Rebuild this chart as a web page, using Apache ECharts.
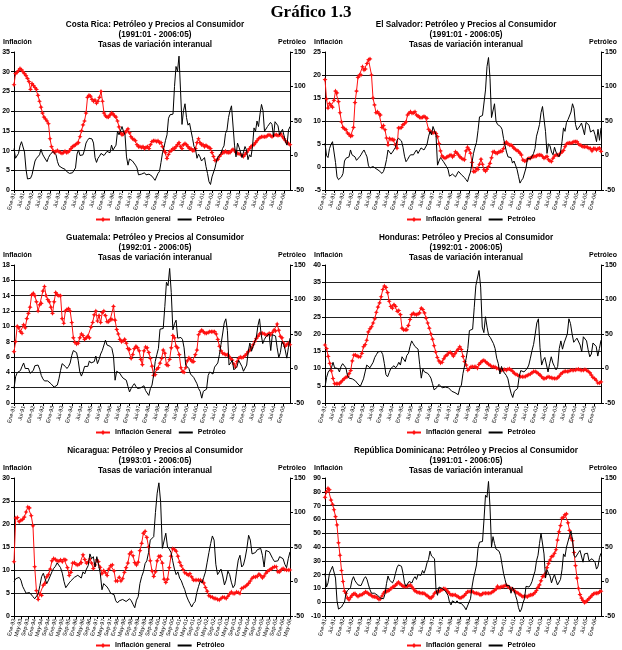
<!DOCTYPE html>
<html>
<head>
<meta charset="utf-8">
<title>Gráfico 1.3</title>
<script src="https://cdn.jsdelivr.net/npm/echarts@6/dist/echarts.min.js"></script>
<style>
  html, body { margin: 0; padding: 0; background: #fff; }
  #grafico { width: 622px; height: 650px; }
</style>
</head>
<body>
<div id="grafico"></div>
<script>
// ---- Nombres de los meses para las etiquetas del eje X ----
var MESES = ['Ene', 'Feb', 'Mar', 'Abr', 'May', 'Jun', 'Jul', 'Ago', 'Sep', 'Oct', 'Nov', 'Dic'];

// ---- Costa Rica (1991:01 - 2006:05) ----
var crInflacion = [
  26.7, 29.5, 29.8, 30.3, 30.8, 30.5, 30.0, 29.5, 29.0, 28.3, 27.5, 25.5,
  27.0, 26.5, 26.0, 25.5, 24.0, 22.5, 21.0, 19.5, 18.5, 18.0, 17.5, 16.8,
  13.0, 11.0, 10.0, 9.5, 9.8, 10.0, 9.7, 9.5, 9.3, 9.5, 9.8, 9.5,
  9.6, 10.0, 10.5, 11.0, 11.2, 11.5, 11.8, 12.0, 13.5, 15.0, 16.5, 17.5,
  19.5, 23.5, 24.0, 23.8, 23.0, 22.5, 22.8, 22.0, 22.5, 23.5, 25.0, 22.5,
  19.5, 18.8, 18.5, 18.5, 19.0, 19.5, 19.3, 18.8, 18.5, 17.5, 16.0, 14.5,
  14.0, 14.2, 14.5, 15.0, 15.5, 14.5, 13.5, 13.0, 12.8, 12.5, 11.5, 11.0,
  11.0, 10.8, 11.0, 10.5, 10.8, 11.0, 10.5, 11.5, 12.3, 12.5, 12.5, 12.3,
  12.5, 12.0, 12.0, 11.0, 10.0, 9.5, 8.0, 9.0, 9.8, 10.0, 10.5, 10.5,
  11.0, 11.5, 12.0, 11.0, 10.5, 11.5, 11.8, 11.5, 11.0, 10.5, 10.5, 10.0,
  10.0, 10.5, 12.0, 13.0, 12.0, 11.5, 11.5, 11.0, 11.3, 11.0, 10.8, 10.5,
  9.5, 8.5, 7.5, 7.5, 7.8, 8.5, 9.0, 9.5, 9.5, 9.8, 9.5, 9.5,
  9.5, 10.0, 10.3, 10.0, 9.5, 9.3, 9.2, 9.0, 8.8, 8.5, 9.0, 9.5,
  10.0, 10.5, 11.0, 11.3, 11.5, 12.0, 12.5, 13.0, 13.3, 13.5, 13.5, 13.5,
  13.5, 13.8, 14.0, 13.8, 13.5, 13.8, 14.0, 14.0, 13.8, 14.0, 14.2, 13.5,
  13.0, 12.5, 12.0, 11.8, 11.5
];
var crPetroleo = [
  10, -4, -3, 3, 14, 20, 19, 5, -20, -34, -35, -33,
  -28, -26, -8, -4, -2, 1, 9, 2, -2, -2, -9, -3,
  1, 3, 6, 8, 1, -9, -15, -17, -18, -18, -20, -23,
  -23, -26, -27, -25, -27, -18, 2, 8, 0, -2, 1, 8,
  18, 22, 25, 27, 24, 18, -3, -10, -4, -1, 3, 2,
  0, -2, 6, 4, 4, 15, 8, 9, 15, 35, 30, 30,
  42, 35, 30, -2, -14, -5, -6, -8, -10, -14, -18, -28,
  -30, -27, -27, -25, -28, -26, -27, -28, -30, -33, -36, -38,
  -26, -23, -10, 4, 12, 22, 30, 54, 59, 58, 60, 100,
  129, 122, 144, 95, 45, 65, 75, 55, 44, 47, 36, 25,
  13, 9, -4, 2, -2, -8, -10, -3, -16, -26, -38, -42,
  -31, -31, -18, -8, -2, -4, 3, 10, 14, 32, 37, 55,
  65, 72, 73, 15, -2, 18, 12, 5, -3, 5, 13, 8,
  -6, 1, -2, 13, 40, 35, 50, 42, 60, 74, 65, 35,
  37, 42, 44, 48, 45, 27, 49, 47, 43, 30, 32, 38,
  40, 20, 15, 37, 42
];

// ---- El Salvador (1991:01 - 2006:05) ----
var esInflacion = [
  19, 14.8, 12.8, 13.8, 13.3, 13, 14.5, 16.5, 16.1, 14.2, 11.8, 9.8,
  8.6, 8.3, 8.1, 7.4, 7.1, 6.7, 6.8, 8.6, 14, 16.5, 19.5, 20,
  20, 21.8, 21.1, 21.3, 22.5, 23.3, 23.5, 20, 15, 13.5, 11.8, 12,
  11.6, 11.3, 8.6, 9, 8.1, 6.3, 4.8, 6.2, 6, 6, 5.9, 4.8,
  4.1, 8.5, 8.5, 8.6, 9.2, 9.4, 9.8, 11.3, 11.7, 12, 11.7, 11.8,
  12, 11.3, 11.1, 10.8, 10.7, 10.8, 11, 10.8, 10.6, 8.2, 7.8, 7.5,
  7.4, 7.6, 7.3, 6.6, 5.1, 3.5, 2.4, 2.1, 1.9, 2.1, 2.3, 2.5,
  2.6, 2.2, 2.5, 3.3, 3, 2.6, 2.2, 1.9, 1.7, 1.6, 3.5, 4.3,
  3.8, 3, 1, -1, -1, -0.4, -0.5, 0.6, 1.7, 0.6, -0.6, -0.9,
  -0.5, 0.1, 0.8, 2, 3.3, 3.3, 3, 3, 3.3, 3.4, 3.4, 4,
  5.2, 5.4, 5, 4.8, 4.8, 4.5, 4.1, 3.8, 3.6, 3.4, 3, 2.6,
  1.5, 1.3, 1.3, 1.7, 1.9, 1.9, 2.2, 2.3, 2.3, 2.4, 2.6, 2.6,
  2.6, 2.3, 1.9, 2.1, 2.3, 1.6, 1.3, 1.2, 1.9, 2.4, 2.6, 2.6,
  2.6, 3, 3.3, 3.6, 4.4, 5, 5.2, 5.2, 5.2, 5.3, 5.5, 5.5,
  5.5, 5, 4.8, 4.6, 4.4, 4.4, 4.4, 4.3, 4.1, 4, 3.5, 4,
  4, 3.7, 4, 4.1, 3.4
];
var esPetroleo = [
  18, 0, -3, 10, 16, 20, 19, -10, -31, -35, -35, -31,
  -26, -8, -4, -3, -2, 8, 1, 0, -2, -7, -9, -2,
  1, 5, 8, 3, -2, -15, -18, -17, -16, -17, -19, -21,
  -22, -24, -26, -23, -16, -6, 8, 5, 2, 5, 7, 12,
  22, 25, 26, 21, 12, -1, -9, -6, -2, 1, 3, 1,
  5, 8, 3, 3, 11, 11, 8, 8, 16, 27, 35, 30,
  42, 36, 30, -14, -8, -3, -6, -9, -11, -16, -20, -30,
  -31, -27, -28, -31, -27, -23, -25, -28, -30, -32, -35, -38,
  -30, -24, -10, 3, 12, 19, 36, 56, 58, 58, 60, 95,
  129, 142, 112, 55, 55, 75, 50, 45, 44, 42, 38, 25,
  15, 5, -2, 0, -3, -11, -8, -8, -20, -30, -40, -36,
  -33, -31, -18, -4, -3, -5, -3, 3, 10, 28, 36, 45,
  62, 71, 70, 35, 3, 17, 14, 5, 1, 12, 5, 1,
  -2, 5, 20, 40, 35, 48, 52, 52, 63, 75, 68, 45,
  37, 39, 43, 47, 45, 30, 48, 46, 44, 34, 36, 37,
  30, 20, 38, 22, 40
];

// ---- Guatemala (1992:01 - 2006:05) ----
var gtInflacion = [
  6.7, 8, 10, 9.8, 9.3, 9.1, 10.2, 9.8, 11, 11.7, 12.5, 14.1,
  14.3, 14, 13.2, 12, 12.8, 13, 14.6, 15.2, 14, 13.5, 13.2, 12.5,
  11.7, 13.2, 14.4, 14.1, 14, 14, 11, 10.4, 12, 12.2, 12.3, 12,
  10.5, 8.5, 7.9, 7.7, 7.8, 8.5, 9, 8.8, 8.3, 8.5, 8.7, 8.5,
  9.9, 10.5, 11.5, 12, 10.7, 11.4, 10.5, 11.8, 12, 11.4, 10.6, 10.6,
  10.9, 10.9, 12.6, 10.8, 9.6, 9, 8.3, 8, 8.1, 8.3, 7.8, 7.1,
  7, 5.8, 6.3, 7.1, 7.4, 7.2, 6.8, 5.7, 5, 6.8, 7.3, 7.2,
  6.6, 5.8, 4.8, 3.6, 3.7, 4.4, 4.6, 5.2, 5.8, 6.9, 6.5, 5,
  4.9, 5.7, 7.2, 8.8, 8.5, 7.4, 7.2, 6.3, 4.6, 4.1, 4, 4.6,
  5.5, 5.9, 5.7, 5.4, 5.4, 6.3, 6.9, 8.9, 9.3, 9.5, 9.3, 9.1,
  9.1, 9.2, 9.3, 9.3, 9.3, 9.3, 9, 8.3, 7.4, 6.8, 6.5, 6.4,
  6.3, 6.3, 6.1, 5.8, 5.6, 5.1, 4.7, 5.4, 5.8, 6, 5.9, 6,
  6.2, 6.4, 6.7, 6.9, 7.2, 7.6, 8, 8.4, 8.7, 9, 9.1, 9.1,
  9, 8.9, 8.9, 9.1, 8.9, 9.2, 9.5, 9.4, 10.3, 9.5, 8.7, 8.5,
  7.8, 7.4, 7.6, 7.8, 7.6
];
var gtPetroleo = [
  -29, -12, -6, -5, -3, 3, 8, 0, -2, 0, -7, -8,
  -3, 4, 6, 5, -1, -10, -15, -18, -17, -18, -20, -22,
  -24, -27, -27, -24, -15, -3, 7, 8, 3, 0, 3, 8,
  19, 26, 26, 23, 12, -5, -11, -5, 3, 4, 3, 11,
  8, 8, 10, 18, 7, 13, 21, 26, 26, 41, 34, 32,
  32, 29, 18, -17, -4, -5, -7, -11, -14, -14, -17, -26,
  -34, -29, -25, -22, -26, -29, -27, -28, -28, -25, -32, -34,
  -39, -29, -24, -10, 10, 20, 29, 57, 56, 58, 90, 125,
  120, 145, 110, 56, 65, 70, 44, 45, 45, 42, 30, 5,
  5, 0, -8, -10, -13, -14, -22, -29, -33, -43, -33, -33,
  -30, -10, -5, -5, -8, 2, 3, 8, 20, 35, 50, 66,
  72, 55, 5, 8, 12, -2, -4, 3, 12, 10, 3, -4,
  -3, 5, 25, 37, 25, 32, 30, 45, 62, 72, 50, 36,
  42, 46, 44, 50, 26, 49, 49, 47, 30, 16, 23, 39,
  35, 27, 15, 30, 44
];

// ---- Honduras (1992:01 - 2006:05) ----
var hnInflacion = [
  16.8, 15.8, 13.5, 11.5, 9.3, 7.1, 5.6, 5.6, 5.6, 5.6, 6.1, 6.6,
  7.1, 7.4, 7.7, 8.5, 9.4, 12.2, 13.9, 13.9, 13.6, 13.4, 13.4, 14.4,
  16.3, 16.9, 18.2, 20.6, 21.5, 22.1, 23.2, 24.4, 26.3, 27.8, 29, 30.8,
  32.9, 33.9, 33.5, 32, 29.5, 28, 27.5, 28.5, 28, 26.6, 26.8, 25.6,
  21.7, 21.2, 21.2, 21.2, 22.5, 24.2, 25.6, 26, 25.7, 25.6, 25.8, 26.1,
  27.5, 27.1, 26.1, 24.6, 23.2, 21.7, 20, 18.5, 16.6, 14.8, 13.2, 12.2,
  11.6, 11.8, 12.8, 13.6, 13.9, 14.5, 14.7, 14.3, 13.6, 14.3, 15, 15.6,
  16.3, 15.5, 13.5, 12, 11, 9.5, 10, 10.5, 10.5, 10.5, 10.5, 10.1,
  11.2, 11.7, 12.2, 12.4, 12, 11.6, 11.2, 10.9, 10.5, 10.5, 10.4, 10.1,
  10, 9.7, 9.5, 9.6, 9.7, 9.5, 9.8, 9.9, 9.5, 9.2, 8.6, 8.3,
  8.1, 7.9, 7.6, 7.6, 7.6, 7.7, 8, 8.2, 8.4, 8.8, 9.1, 9.1,
  8.9, 8.5, 8.1, 7.6, 7.1, 7.1, 7.3, 7.6, 7.5, 7.3, 7.2, 7.1,
  7.1, 7.3, 7.8, 8.4, 8.8, 9.1, 9.2, 9.1, 9.2, 9.5, 9.5, 9.5,
  9.6, 9.7, 9.8, 9.6, 9.5, 9.5, 9.7, 9.5, 9.2, 8.8, 8.1, 7.4,
  7.1, 6.6, 5.8, 5.8, 6.1
];
var hnPetroleo = [
  -27, -13, -5, -2, 1, 9, 1, 3, 0, -5, 3, 7,
  7, 1, -10, -14, -16, -15, -16, -18, -21, -23, -26, -25,
  -15, -5, 5, 5, 1, 0, 9, 16, 20, 24, 26, 25,
  20, 7, -9, -12, -6, 0, -1, 4, 1, 4, 9, 5,
  17, 17, 10, 19, 22, 32, 40, 36, 32, 31, 28, 6,
  -14, -1, -5, -5, -7, -10, -14, -22, -31, -30, -27, -23,
  -25, -28, -28, -27, -29, -28, -28, -33, -33, -35, -37, -38,
  -28, -24, -7, 4, 15, 29, 55, 56, 57, 88, 120, 122,
  142, 118, 60, 52, 75, 60, 48, 45, 43, 36, 29, 15,
  7, -8, 3, -4, -3, -10, -15, -27, -36, -42, -33, -32,
  -29, -12, -3, -4, -5, -3, 0, 5, 15, 26, 35, 50,
  66, 72, 30, 5, 12, 16, 15, -5, 7, 17, 8, 3,
  -2, 3, 29, 40, 28, 37, 39, 50, 72, 65, 50, 38,
  41, 44, 42, 34, 24, 46, 44, 40, 27, 17, 21, 37,
  39, 32, 18, 29, 41
];

// ---- Nicaragua (1993:01 - 2006:05) ----
var niInflacion = [
  11.8, 21.3, 21.4, 20.5, 20.8, 21, 21.5, 22.6, 23.7, 23.5, 21.8, 19.6,
  10.7, 5.5, 3.6, 4.8, 4.5, 6.7, 7.1, 8.5, 9, 10.2, 12, 12.5,
  12.3, 12, 11.9, 12.2, 11.8, 12.3, 12.2, 10.5, 8.8, 9.5, 11.5, 11.6,
  11.2, 11.1, 11.3, 11.6, 13.3, 12.3, 11.5, 11.7, 12.4, 11.5, 10.3, 11.1,
  12.2, 11.8, 10.6, 9.2, 9.9, 9.4, 8.8, 10.2, 10.9, 11.1, 9.8, 7.6,
  7.6, 8.4, 7.6, 8.1, 9.5, 10.5, 11.5, 13.5, 13.9, 13.1, 11.6, 11.1,
  11.7, 14.2, 15.8, 18, 18.4, 17.1, 15, 12, 9.8, 8.6, 9.6, 12,
  13, 13, 11.5, 8, 7.3, 8, 10.5, 13, 14.6, 14.5, 14.1, 13,
  11.7, 10.9, 10.1, 9.4, 9.2, 8.9, 9.2, 8.5, 7.8, 7.8, 7.8, 7.8,
  7.8, 7.6, 7.2, 6.2, 5.4, 4.4, 4.2, 4.1, 3.8, 3.8, 3.6, 3.5,
  3.8, 4.1, 4, 3.8, 4.3, 4.8, 5.2, 4.9, 4.9, 5.2, 5.1, 4.9,
  6, 6.2, 6.4, 6.7, 7.1, 7.6, 8.2, 8.5, 8.5, 8.6, 9.1, 8.8,
  8.3, 8.7, 9.3, 9.7, 10, 10.2, 10.5, 10.7, 10.7, 9.6, 9.6, 10.1,
  10.3, 10.1, 10, 10, 10
];
var niPetroleo = [
  0, 4, 6, 6, 2, -7, -12, -17, -16, -16, -17, -22,
  -25, -27, -18, -6, 7, 12, 4, -3, 2, 8, 14, 19,
  22, 27, 26, 20, 12, 0, -9, -10, -2, 1, -1, 6,
  8, 9, 10, 5, 14, 11, 18, 23, 40, 33, 36, 21,
  36, 34, 12, -12, -3, -4, -8, -12, -17, -17, -19, -28,
  -31, -28, -26, -26, -26, -29, -28, -25, -28, -33, -38, -27,
  -22, -3, 7, 14, 26, 30, 42, 60, 58, 65, 100, 128,
  143, 115, 48, 50, 70, 50, 47, 42, 30, 18, 10, 14,
  5, 1, -6, -12, -21, -27, -32, -37, -32, -29, -16, -7,
  1, -2, 6, 14, 28, 42, 55, 66, 60, 25, 10, 12,
  18, 8, -5, 2, 15, 10, -1, -9, -5, 14, 31, 38,
  21, 24, 34, 48, 67, 60, 40, 38, 42, 46, 48, 48,
  38, 21, 45, 44, 43, 42, 33, 29, 30, 30, 36, 36,
  33, 25, 20, 33, 43
];

// ---- República Dominicana (1991:01 - 2006:05) ----
var rdInflacion = [
  76, 80, 82.5, 81.5, 74, 71, 67, 62, 56, 43, 34, 23,
  15, 8, 6.5, 3, 1.8, 3.5, 5, 6, 6.3, 5, 4.2, 5,
  5.3, 5.8, 6.5, 7.5, 7, 6.2, 5.5, 4.8, 4, 4, 3.8, 3,
  2, 2.5, 4.5, 6.5, 7.7, 7.7, 8.2, 8.9, 10, 10.8, 11.5, 12.2,
  13.5, 14.5, 13.3, 12.5, 11.5, 11.3, 11.3, 11.6, 12, 12.4, 11, 9.6,
  8.2, 7.6, 7.1, 6.9, 6.5, 6.5, 6.4, 5.6, 4.8, 4, 3, 3.3,
  4.5, 6.5, 7.2, 7.7, 7.7, 8.4, 9, 9.8, 9.7, 8.8, 7.5, 6.3,
  5.3, 5.3, 5.3, 5.2, 4.3, 3.8, 3, 3.4, 4, 5, 6.3, 7.6,
  7.7, 7.7, 7.7, 7.2, 6.5, 6.5, 6.3, 5.6, 5.3, 6.2, 6.5, 6.5,
  6.5, 6.5, 6.5, 7, 7.7, 8.6, 9.5, 11.5, 10.5, 10.8, 11.3, 11.3,
  12, 12.2, 11.2, 10.3, 9.9, 9.5, 8.5, 7.5, 6.9, 6.3, 5.5, 4.7,
  4, 4.4, 4.2, 4, 4.8, 5.3, 5.3, 6, 7, 8.5, 10.8, 12.5,
  15.5, 18.6, 18.8, 21, 25, 28, 30.5, 33, 33.5, 35.5, 38, 45,
  51, 55.5, 61, 61.5, 63.4, 64, 57.5, 52, 46.4, 44.5, 36, 26.5,
  17.5, 10, 5.5, 3, 1.2, -0.3, 0.4, 1.5, 2.6, 3.7, 5, 6,
  6.5, 6.5, 6.5, 7.5, 8
];
var rdPetroleo = [
  12, -8, -2, 12, 17, 22, 20, 5, -28, -40, -40, -37,
  -33, -30, -17, -13, -11, -9, 2, 7, 1, 0, -5, -7,
  -6, -1, 4, 7, 3, -5, -12, -17, -17, -17, -17, -20,
  -21, -24, -26, -25, -18, -3, 8, 2, 0, -2, 3, 12,
  20, 24, 26, 22, 12, -2, -7, -5, 0, -1, -2, 4,
  7, 3, 10, 10, 9, 16, 12, 18, 27, 32, 44, 37,
  38, 33, -12, -20, -8, -6, -10, -11, -13, -15, -20, -30,
  -34, -28, -30, -31, -28, -31, -33, -32, -33, -37, -41, -40,
  -30, -25, -8, 5, 14, 24, 48, 57, 58, 58, 90, 125,
  122, 145, 108, 50, 65, 55, 47, 46, 44, 38, 25, 12,
  3, -6, -4, -6, -17, -8, -13, -20, -27, -38, -44, -40,
  -31, -25, -7, -5, -8, -5, 0, 8, 15, 30, 38, 55,
  70, 72, 40, 5, 17, 12, 8, -2, 5, 10, 2, -5,
  -6, 3, 17, 40, 36, 50, 52, 66, 73, 60, 38, 35,
  36, 42, 45, 47, 28, 40, 42, 41, 30, 28, 33, 34,
  28, 18, 22, 35, 41
];

// ---- Escalas del eje izquierdo (Inflación) por panel: [min, max, intervalo] ----
var escalaCR = [0, 35, 5];
var escalaES = [-5, 25, 5];
var escalaGT = [0, 18, 2];
var escalaHN = [0, 40, 5];
var escalaNI = [0, 30, 5];
var escalaRD = [-10, 90, 10];
// eje derecho (Petróleo), común a todos los paneles
var escalaPetroleo = [-50, 150, 50];

/**
 * Construye las etiquetas mensuales "Ene-91", "Feb-91", ...
 * @param {number} anio - año inicial de las etiquetas
 * @param {number} n    - número de meses
 */
function etiquetasMes(anio, n) {
    var out = [];
    for (var i = 0; i < n; i++) {
        var a = anio + Math.floor(i / 12);
        out.push(MESES[i % 12] + '-' + String(a % 100).padStart(2, '0'));
    }
    return out;
}

// ---- Definición de los seis paneles ----
var paneles = [
    { titulo: 'Costa Rica: Petróleo y Precios al Consumidor', periodo: '(1991:01 - 2006:05)',
      anioEtiqueta: 1991, inflacion: crInflacion, petroleo: crPetroleo, escala: escalaCR,
      paso: 6, leyenda: 'Inflación general' },
    { titulo: 'El Salvador: Petróleo y Precios al Consumidor', periodo: '(1991:01 - 2006:05)',
      anioEtiqueta: 1991, inflacion: esInflacion, petroleo: esPetroleo, escala: escalaES,
      paso: 6, leyenda: 'Inflación general' },
    // en el original las etiquetas de Guatemala y Honduras empiezan en Ene-91
    { titulo: 'Guatemala: Petróleo y Precios al Consumidor', periodo: '(1992:01 - 2006:05)',
      anioEtiqueta: 1991, inflacion: gtInflacion, petroleo: gtPetroleo, escala: escalaGT,
      paso: 6, leyenda: 'Inflación General' },
    { titulo: 'Honduras: Petróleo y Precios al Consumidor', periodo: '(1992:01 - 2006:05)',
      anioEtiqueta: 1991, inflacion: hnInflacion, petroleo: hnPetroleo, escala: escalaHN,
      paso: 6, leyenda: 'Inflación general' },
    { titulo: 'Nicaragua: Petróleo y Precios al Consumidor', periodo: '(1993:01 - 2006:05)',
      anioEtiqueta: 1993, inflacion: niInflacion, petroleo: niPetroleo, escala: escalaNI,
      paso: 4, leyenda: 'Inflación general' },
    { titulo: 'República Dominicana: Petróleo y Precios al Consumidor', periodo: '(1991:01 - 2006:05)',
      anioEtiqueta: 1991, inflacion: rdInflacion, petroleo: rdPetroleo, escala: escalaRD,
      paso: 6, leyenda: 'Inflación general' }
];

var FUENTE = '"Liberation Sans", Arial, sans-serif';
var ROJO = '#ff1010';
// marcador tipo estrella de cuatro puntas, como en el original
var ESTRELLA = 'path://M0,-6L2,-2L6,0L2,2L0,6L-2,2L-6,0L-2,-2Z';

var option = {
    animation: false,
    backgroundColor: '#ffffff',
    textStyle: { fontFamily: FUENTE },
    grid: [], xAxis: [], yAxis: [], series: [], legend: [],
    graphic: [{
        type: 'text', x: 311, y: 13,
        style: { text: 'Gráfico 1.3', font: 'bold 17px "Liberation Serif", "Times New Roman", serif',
                 fill: '#000', align: 'center', verticalAlign: 'middle' }
    }]
};

paneles.forEach(function (p, i) {
    var px = (i % 2) * 311;
    var py = Math.floor(i / 2) * 213;
    var cats = etiquetasMes(p.anioEtiqueta, p.inflacion.length);

    // ---- títulos y rótulos de ejes ----
    [p.titulo, p.periodo, 'Tasas de variación interanual'].forEach(function (t, k) {
        option.graphic.push({
            type: 'text', x: px + 155, y: py + 25 + k * 10,
            style: { text: t, font: 'bold 8.2px ' + FUENTE, fill: '#000', align: 'center', verticalAlign: 'middle' }
        });
    });
    option.graphic.push({
        type: 'text', x: px + 3, y: py + 42,
        style: { text: 'Inflación', font: 'bold 7px ' + FUENTE, fill: '#000', align: 'left', verticalAlign: 'middle' }
    });
    option.graphic.push({
        type: 'text', x: px + 306, y: py + 42,
        style: { text: 'Petróleo', font: 'bold 7px ' + FUENTE, fill: '#000', align: 'right', verticalAlign: 'middle' }
    });

    option.grid.push({ left: px + 14, top: py + 52, width: 276, height: 138, outerBoundsMode: 'none' });

    option.xAxis.push({
        type: 'category', gridIndex: i, data: cats, boundaryGap: false,
        axisLine: { onZero: false, lineStyle: { color: '#000', width: 1 } },
        axisTick: { show: true, interval: p.paso - 1, length: 3, lineStyle: { color: '#000' } },
        axisLabel: { interval: p.paso - 1, rotate: 75, fontSize: 5.5, color: '#000', margin: 3, fontFamily: FUENTE },
        splitLine: { show: false }
    });

    option.yAxis.push({
        type: 'value', gridIndex: i, position: 'left',
        min: p.escala[0], max: p.escala[1], interval: p.escala[2],
        axisLine: { show: true, lineStyle: { color: '#000', width: 1 } },
        axisTick: { show: true, length: 3, lineStyle: { color: '#000' } },
        axisLabel: { fontSize: 7, fontWeight: 'bold', color: '#000', margin: 4, fontFamily: FUENTE },
        splitLine: { show: true, showMaxLine: false, lineStyle: { color: '#222', width: 1 } }
    });
    option.yAxis.push({
        type: 'value', gridIndex: i, position: 'right',
        min: escalaPetroleo[0], max: escalaPetroleo[1], interval: escalaPetroleo[2],
        axisLine: { show: true, lineStyle: { color: '#000', width: 1 } },
        axisTick: { show: true, length: 3, lineStyle: { color: '#000' } },
        axisLabel: { fontSize: 7, fontWeight: 'bold', color: '#000', margin: 4, fontFamily: FUENTE },
        splitLine: { show: false }
    });

    // inflación: marcador en cada mes (sin ocultar los que se solapan)
    option.series.push({
        name: p.leyenda, type: 'line', xAxisIndex: i, yAxisIndex: 2 * i,
        data: p.inflacion, showSymbol: true, showAllSymbol: true, symbol: ESTRELLA, symbolSize: 5,
        itemStyle: { color: ROJO }, lineStyle: { color: ROJO, width: 1 },
        emphasis: { disabled: true }, z: 2
    });
    option.series.push({
        name: 'Petróleo', type: 'line', xAxisIndex: i, yAxisIndex: 2 * i + 1,
        data: p.petroleo, showSymbol: false, symbol: 'none',
        itemStyle: { color: '#000' }, lineStyle: { color: '#000', width: 1 },
        emphasis: { disabled: true }, z: 3
    });

    option.legend.push({
        // la línea del petróleo va sin marcador en la leyenda
        data: [p.leyenda, { name: 'Petróleo', itemStyle: { opacity: 0 } }],
        left: px + 95, top: py + 216,
        itemWidth: 14, itemHeight: 7, itemGap: 6, padding: 0,
        textStyle: { fontSize: 7, fontWeight: 'bold', color: '#000', fontFamily: FUENTE }
    });
});

var chart = echarts.init(document.getElementById('grafico'), null, { renderer: 'canvas' });
chart.setOption(option);
</script>
</body>
</html>
